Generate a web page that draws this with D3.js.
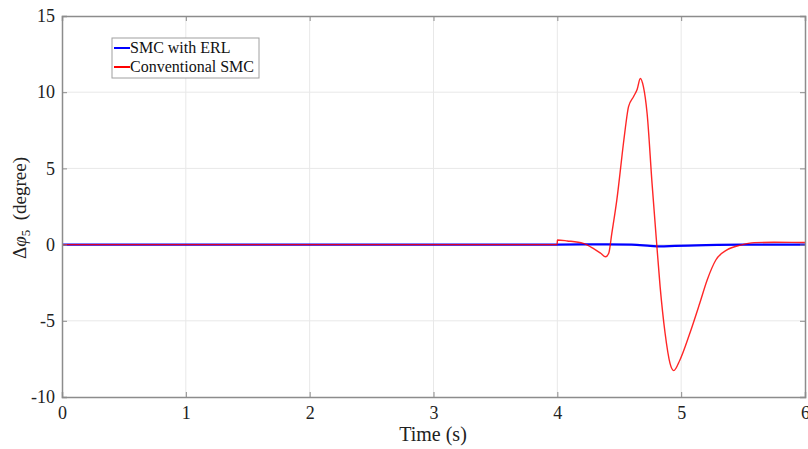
<!DOCTYPE html>
<html><head><meta charset="utf-8">
<script src="https://cdn.jsdelivr.net/npm/d3@7"></script>
<style>body{margin:0;background:#fff}svg{display:block}text{font-family:"Liberation Serif","Times New Roman",serif}</style>
</head><body><svg id="c" width="808" height="449"></svg>
<script>
const xTicks = [0,1,2,3,4,5,6];
const yTicks = [-10,-5,0,5,10,15];
const seriesNames = ["SMC with ERL","Conventional SMC"];
const seriesColors = ["#0000ff","#ff0000"];
const tRed = [0,3.999,4.0,4.08,4.21,4.29,4.35,4.39,4.415,4.44,4.48,4.534,4.55,4.575,4.615,4.645,4.67,4.695,4.725,4.765,4.8,4.83,4.87,4.91,4.94,4.99,5.07,5.15,5.21,5.28,5.37,5.48,5.59,5.75,6];
const vRed = [0,0,0.3,0.24,0.08,-0.25,-0.57,-0.8,-0.57,0.74,2.9,6.65,7.7,9.05,9.7,10.2,10.9,10.36,8.6,4.0,0.3,-2.76,-5.8,-7.79,-8.27,-7.57,-5.82,-3.85,-2.32,-1.01,-0.35,-0.03,0.13,0.15,0.14];
const tBlue = [0,4,4.4,4.6,4.75,4.83,4.95,5.2,5.5,6];
const vBlue = [0,0,0.02,0,-0.08,-0.12,-0.08,-0.03,0,0];

const W=808,H=449,m={l:62,r:3,t:16,b:52};
const svg=d3.select("#c");
const x=d3.scaleLinear().domain([0,6]).range([m.l,W-m.r]);
const y=d3.scaleLinear().domain([-10,15]).range([H-m.b,m.t]);
const axisCol="#8c8c8c";
const fmt=d=>String(d);

// grid
svg.append("g").selectAll("line").data(xTicks.slice(1,-1)).join("line")
  .attr("x1",d=>x(d)).attr("x2",d=>x(d)).attr("y1",y(-10)).attr("y2",y(15))
  .attr("stroke","#e8e8e8").attr("stroke-width",1);
svg.append("g").selectAll("line").data(yTicks.slice(1,-1)).join("line")
  .attr("y1",d=>y(d)).attr("y2",d=>y(d)).attr("x1",x(0)).attr("x2",x(6))
  .attr("stroke","#e8e8e8").attr("stroke-width",1);

// lines
const line=(ts,vs)=>d3.line().x((d,i)=>x(ts[i])).y(d=>y(d)).curve(d3.curveMonotoneX)(vs);
svg.append("path").attr("d",line(tBlue,vBlue)).attr("fill","none").attr("stroke",seriesColors[0]).attr("stroke-width",2.2);
svg.append("path").attr("d",line(tRed,vRed)).attr("fill","none").attr("stroke",seriesColors[1]).attr("stroke-width",1.4).attr("stroke-opacity",0.85);

// axes
const gBottom=svg.append("g").attr("transform",`translate(0,${y(-10)})`)
  .call(d3.axisBottom(x).tickValues(xTicks).tickSize(-5).tickPadding(9).tickFormat(fmt));
const gLeft=svg.append("g").attr("transform",`translate(${x(0)},0)`)
  .call(d3.axisLeft(y).tickValues(yTicks).tickSize(-5).tickPadding(7).tickFormat(fmt));
const gTop=svg.append("g").attr("transform",`translate(0,${y(15)})`)
  .call(d3.axisTop(x).tickValues(xTicks).tickSize(-5).tickFormat(""));
const gRight=svg.append("g").attr("transform",`translate(${x(6)},0)`)
  .call(d3.axisRight(y).tickValues(yTicks).tickSize(-5).tickFormat(""));
[gBottom,gLeft,gTop,gRight].forEach(g=>{
  g.select(".domain").attr("stroke",axisCol).attr("stroke-width",1.5);
  g.selectAll(".tick line").attr("stroke",axisCol).attr("stroke-width",1);
  g.selectAll("text").attr("font-size",18).attr("fill","#222").attr("font-family","Liberation Serif");
});

// labels
svg.append("text").attr("x",433).attr("y",441).attr("text-anchor","middle").attr("font-size",20).attr("fill","#222").text("Time (s)");
const yl=svg.append("text").attr("transform","translate(26,208) rotate(-90)").attr("text-anchor","middle").attr("font-size",19).attr("fill","#222");
yl.append("tspan").text("Δ");
yl.append("tspan").attr("font-style","italic").text("φ");
yl.append("tspan").attr("font-size",13).attr("dy",4).text("5");
yl.append("tspan").attr("dy",-4).text("\u2002(degree)");

// legend
const lg=svg.append("g");
lg.append("rect").attr("x",112).attr("y",38).attr("width",147).attr("height",40).attr("fill","#fff").attr("stroke","#a0a0a0").attr("stroke-width",1);
seriesNames.forEach((n,i)=>{
  const yy=48+i*19;
  lg.append("line").attr("x1",114).attr("x2",130).attr("y1",yy).attr("y2",yy).attr("stroke",seriesColors[i]).attr("stroke-width",2);
  lg.append("text").attr("x",130).attr("y",yy+5).attr("font-size",16).attr("fill","#111").text(n);
});
</script></body></html>
